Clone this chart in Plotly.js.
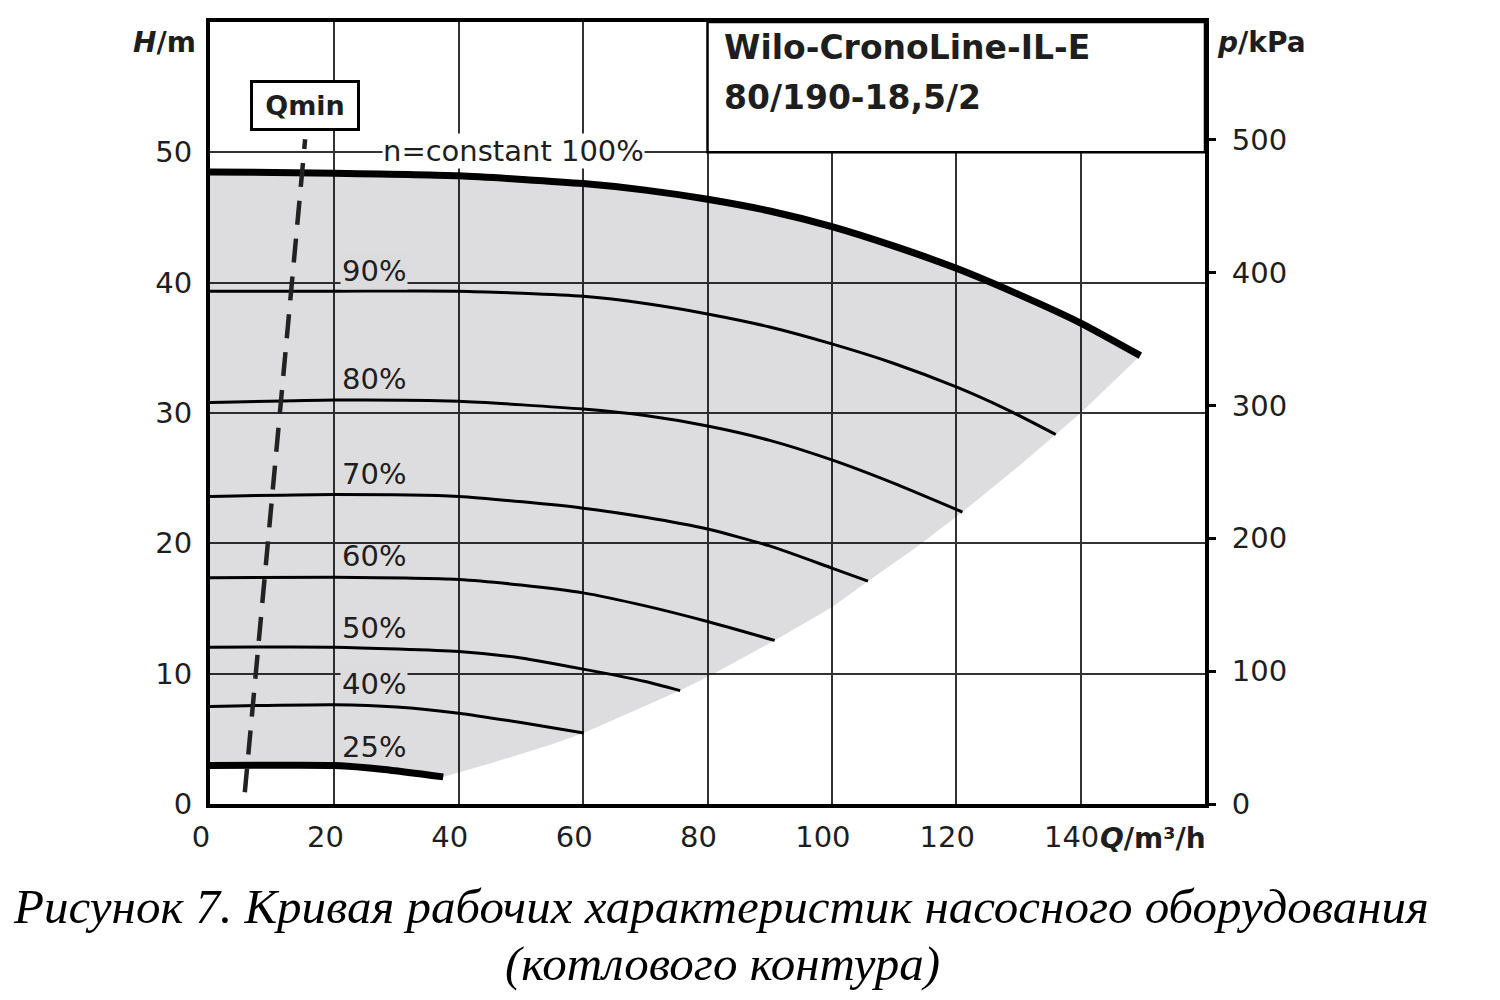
<!DOCTYPE html>
<html>
<head>
<meta charset="utf-8">
<script src="https://cdn.plot.ly/plotly-3.0.1.min.js"></script>
<style>html,body{margin:0;padding:0;background:#fff;}</style>
</head>
<body>
<div id="chart" style="width:1500px;height:1000px;"></div>
<script>
// ---- data (Q in m³/h, H in m) ----
const Q100 = [0, 20, 40, 60, 70, 80, 90, 100, 110, 120, 130, 140, 149.6];
const H100 = [48.5, 48.4, 48.2, 47.6, 47.1, 46.4, 45.5, 44.3, 42.8, 41.1, 39.1, 36.9, 34.4];
const Q90 = [0, 20, 40, 60, 70, 80, 90, 100, 110, 120, 128, 136];
const H90 = [39.35, 39.35, 39.35, 38.95, 38.4, 37.6, 36.6, 35.3, 33.8, 32.0, 30.3, 28.35];
const Q80 = [0, 20, 40, 60, 70, 80, 90, 100, 110, 121];
const H80 = [30.8, 31.0, 30.9, 30.3, 29.8, 29.0, 27.9, 26.4, 24.6, 22.4];
const Q70 = [0, 20, 40, 60, 70, 80, 90, 100, 105.8];
const H70 = [23.6, 23.75, 23.6, 22.7, 22.0, 21.1, 19.8, 18.1, 17.1];
const Q60 = [0, 20, 40, 50, 60, 70, 80, 90.8];
const H60 = [17.36, 17.4, 17.23, 16.8, 16.2, 15.2, 14.0, 12.55];
const Q50 = [0, 20, 40, 50, 60, 70, 75.6];
const H50 = [12.03, 12.03, 11.7, 11.2, 10.35, 9.4, 8.7];
const Q40 = [0, 20, 30, 40, 50, 60.1];
const H40 = [7.49, 7.62, 7.45, 6.97, 6.25, 5.45];
const Q25 = [0, 10, 20, 28, 37.5];
const H25 = [2.95, 2.97, 2.95, 2.65, 2.08];
// outer limit of the operating field (grey area), low to high flow
const limitQ = [37.5, 45, 54.8, 60.1, 75.6, 81, 90.8, 100, 105.8, 113.6, 121, 130, 136, 140, 149.6];
const limitH = [2.08, 3.1, 4.55, 5.45, 8.7, 10.0, 12.55, 15.1, 17.1, 19.7, 22.4, 25.9, 28.35, 30.0, 34.4];
// Qmin line
const QminQ = [5.6, 15.3];
const QminH = [0.9, 51.0];
// tick labels
const xTicks = [0, 20, 40, 60, 80, 100, 120, 140];
const hTicks = [0, 10, 20, 30, 40, 50];
const pTicks = [0, 100, 200, 300, 400, 500];
const curveLabels = ["90%", "80%", "70%", "60%", "50%", "40%", "25%"];
const curveLabelH = [40.9, 32.6, 25.3, 19.0, 13.5, 9.2, 4.4];

const FONT = "DejaVu Sans, sans-serif";
const INK = "#1e1e1e";

// grey field polygon
const fieldQ = [...Q100, ...limitQ.slice().reverse(), ...Q25.slice().reverse()];
const fieldH = [...H100, ...limitH.slice().reverse(), ...H25.slice().reverse()];

function curve(q, h, w) {
  return {x: q, y: h, type: "scatter", mode: "lines", line: {color: "#000", width: w, shape: "spline", smoothing: 0.6},
          hoverinfo: "skip", showlegend: false};
}

const traces = [
  {x: fieldQ, y: fieldH, type: "scatter", mode: "lines", fill: "toself", fillcolor: "rgba(0,0,12,0.135)",
   line: {width: 0, color: "rgba(0,0,0,0)"}, hoverinfo: "skip", showlegend: false},
  curve(Q90, H90, 3), curve(Q80, H80, 3), curve(Q70, H70, 3), curve(Q60, H60, 3),
  curve(Q50, H50, 3), curve(Q40, H40, 3), curve(Q25, H25, 7), curve(Q100, H100, 7),
  {x: QminQ, y: QminH, type: "scatter", mode: "lines", line: {color: "#222", width: 4.5, dash: "24px,14px"},
   hoverinfo: "skip", showlegend: false},
  {x: [0], y: [0], yaxis: "y2", type: "scatter", mode: "markers", marker: {opacity: 0}, hoverinfo: "skip", showlegend: false}
];

const annotations = [];
function ann(o) {
  annotations.push(Object.assign({showarrow: false, xanchor: "center", yanchor: "middle"}, o));
}
curveLabels.forEach((t, i) => {
  const onGrid = (t === "90%" || t === "40%");
  ann({x: 26.3, y: curveLabelH[i], xref: "x", yref: "y", text: t,
    font: {family: FONT, size: 29, color: INK}, bgcolor: onGrid ? "#dcdcde" : "rgba(0,0,0,0)", borderpad: 1});
});
ann({x: 48.8, y: 50.1, xref: "x", yref: "y", text: "n=constant 100%",
  font: {family: FONT, size: 29, color: INK}, bgcolor: "#ffffff", borderpad: 0});
ann({x: 15.2, y: 53.6, xref: "x", yref: "y", text: "<b>Qmin</b>", width: 104, height: 45,
  font: {family: FONT, size: 27, color: INK}, bgcolor: "#ffffff", bordercolor: "#000", borderwidth: 3, borderpad: 0});
ann({x: 0.5146, y: 0.9668, xref: "paper", yref: "paper", xanchor: "left", text: "<b>Wilo-CronoLine-IL-E</b>",
  font: {family: FONT, size: 33, color: INK}});
ann({x: 0.5146, y: 0.904, xref: "paper", yref: "paper", xanchor: "left", text: "<b>80/190-18,5/2</b>",
  font: {family: FONT, size: 33, color: INK}});
ann({x: -0.0121, y: 0.9744, xref: "paper", yref: "paper", xanchor: "right", text: "<b><i>H</i>/m</b>",
  font: {family: FONT, size: 28, color: INK}});
ann({x: 1.0101, y: 0.9744, xref: "paper", yref: "paper", xanchor: "left", text: "<b><i>p</i>/kPa</b>",
  font: {family: FONT, size: 28, color: INK}});
ann({x: 1.003, y: -0.0435, xref: "paper", yref: "paper", xanchor: "right", text: "<b><i>Q</i>/m³/h</b>",
  font: {family: FONT, size: 28, color: INK}});
ann({x: 0.5136, y: -0.1317, xref: "paper", yref: "paper",
  text: "<i>Рисунок 7. Кривая рабочих характеристик насосного оборудования</i>",
  font: {family: "Liberation Serif, serif", size: 49, color: "#000"}});
ann({x: 0.5146, y: -0.2046, xref: "paper", yref: "paper", text: "<i>(котлового контура)</i>",
  font: {family: "Liberation Serif, serif", size: 49, color: "#000"}});

const axisCommon = {showline: true, linecolor: "#000", linewidth: 4, mirror: true, zeroline: false,
  showgrid: true, gridcolor: "#333", gridwidth: 2, ticks: "outside", ticklen: 8, tickcolor: "rgba(0,0,0,0)",
  tickfont: {family: FONT, size: 29, color: INK}, fixedrange: true};

const layout = {
  width: 1500, height: 1000,
  margin: {l: 210, r: 295, t: 22, b: 196},
  paper_bgcolor: "#fff", plot_bgcolor: "#fff",
  showlegend: false,
  xaxis: Object.assign({}, axisCommon, {range: [0, 160], tickvals: xTicks, ticklen: 4, ticklabelshift: -9}),
  yaxis: Object.assign({}, axisCommon, {range: [0, 60], tickvals: hTicks}),
  yaxis2: {overlaying: "y", side: "right", range: [0, 588.6], tickvals: pTicks, showgrid: false, zeroline: false,
    showline: false, ticks: "outside", ticklen: 10, tickwidth: 3, tickcolor: "#000", ticklabelstandoff: 10,
    tickfont: {family: FONT, size: 29, color: INK}, fixedrange: true},
  shapes: [
    {type: "rect", xref: "x", yref: "y", x0: 80, x1: 160, y0: 50, y1: 60, fillcolor: "#fff",
     line: {color: "#000", width: 2.5}, layer: "above"}
  ],
  annotations: annotations
};

Plotly.newPlot("chart", traces, layout, {displayModeBar: false, staticPlot: true});
</script>
</body>
</html>
